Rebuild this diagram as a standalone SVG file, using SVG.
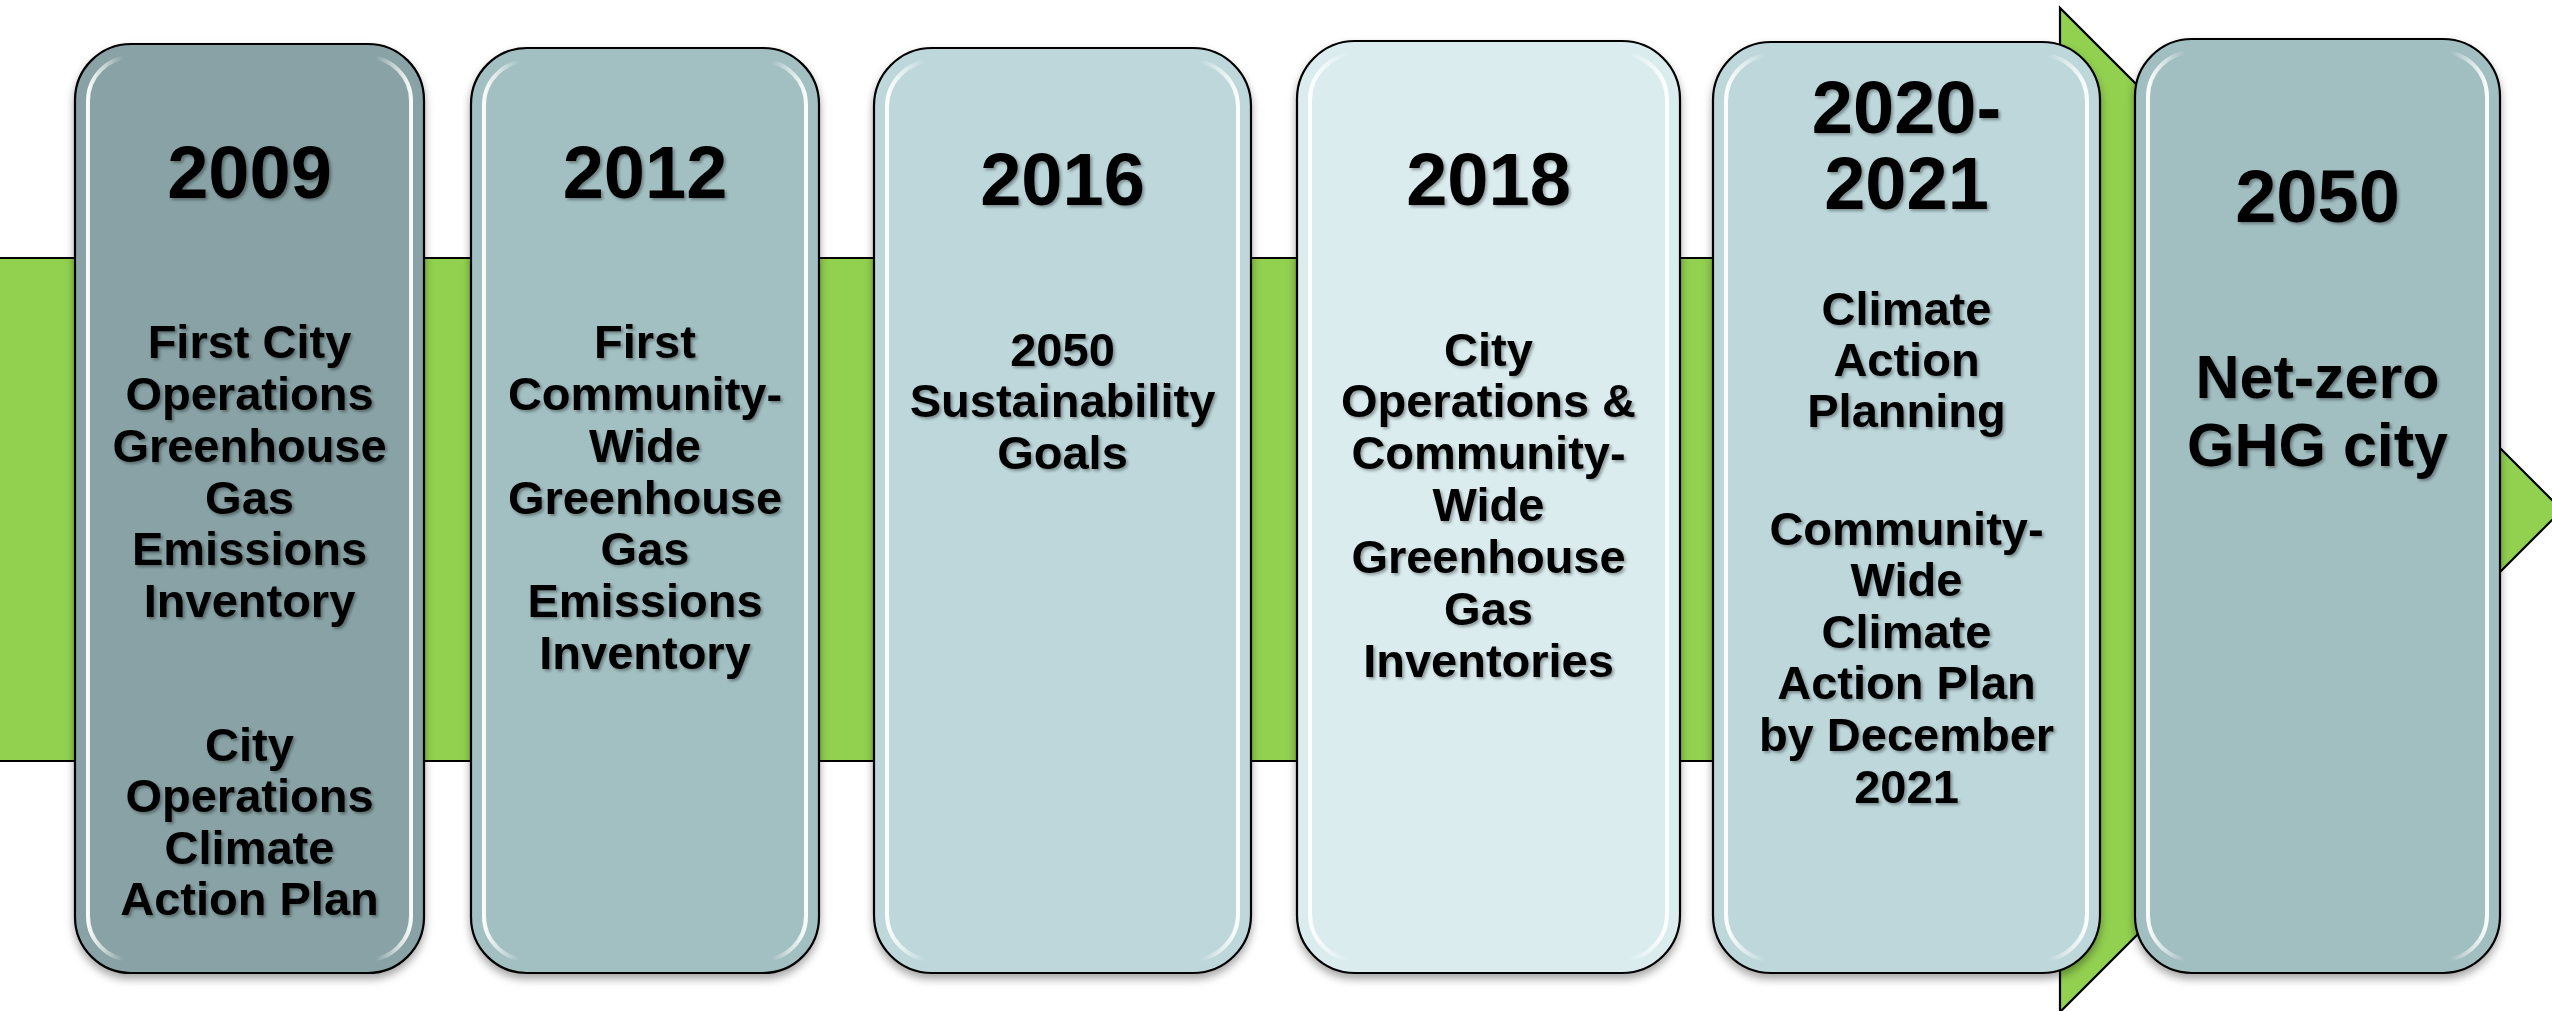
<svg xmlns="http://www.w3.org/2000/svg" width="2552" height="1011" viewBox="0 0 2552 1011">
  <style>
    .box { stroke: #000; stroke-width: 2.2; }
    .hl { fill: none; stroke: url(#hlGrad); stroke-width: 4; }
    .yr { font-family: "Liberation Sans", Arial, sans-serif; font-weight: bold; font-size: 74px; fill: #000; text-anchor: middle; }
    .bd { font-family: "Liberation Sans", Arial, sans-serif; font-weight: bold; font-size: 47px; fill: #000; text-anchor: middle; }
    .big { font-family: "Liberation Sans", Arial, sans-serif; font-weight: bold; font-size: 61px; fill: #000; text-anchor: middle; }
  </style>
  <defs>
    <linearGradient id="hlGrad" x1="0" y1="0" x2="1" y2="0">
      <stop offset="0" stop-color="#fff" stop-opacity="0.95"/>
      <stop offset="0.05" stop-color="#fff" stop-opacity="0.55"/>
      <stop offset="0.11" stop-color="#fff" stop-opacity="0"/>
      <stop offset="0.89" stop-color="#fff" stop-opacity="0"/>
      <stop offset="0.95" stop-color="#fff" stop-opacity="0.55"/>
      <stop offset="1" stop-color="#fff" stop-opacity="0.95"/>
    </linearGradient>
    <filter id="boxShadow" x="-10%" y="-5%" width="120%" height="115%">
      <feDropShadow dx="0" dy="5" stdDeviation="4" flood-color="#000" flood-opacity="0.35"/>
    </filter>
    <filter id="txtShadow" x="-10%" y="-10%" width="120%" height="130%">
      <feDropShadow dx="2" dy="2" stdDeviation="1.5" flood-color="#000" flood-opacity="0.35"/>
    </filter>
  </defs>

  <rect x="0" y="0" width="2552" height="1011" fill="#fff"/>

  <g id="connectors">
    <polygon points="-2,258 2060,258 2060,8 2562,510 2060,1012 2060,761 -2,761" fill="#92D050" stroke="#000" stroke-width="2.2" stroke-linejoin="miter"/>
  </g>

  <g id="node-2009">
    <rect class="box" x="75" y="44" width="349" height="929" rx="56" ry="56" fill="#88A2A5" filter="url(#boxShadow)"/>
    <rect class="hl" x="88" y="57" width="323" height="903" rx="44" ry="44"/>
    <g filter="url(#txtShadow)">
      <text class="yr" x="249.5" y="198">2009</text>
      <text class="bd" x="249.5" y="358">First City</text>
      <text class="bd" x="249.5" y="410">Operations</text>
      <text class="bd" x="249.5" y="462">Greenhouse</text>
      <text class="bd" x="249.5" y="514">Gas</text>
      <text class="bd" x="249.5" y="565">Emissions</text>
      <text class="bd" x="249.5" y="617">Inventory</text>
      <text class="bd" x="249.5" y="761">City</text>
      <text class="bd" x="249.5" y="812">Operations</text>
      <text class="bd" x="249.5" y="864">Climate</text>
      <text class="bd" x="249.5" y="915">Action Plan</text>
    </g>
  </g>

  <g id="node-2012">
    <rect class="box" x="471" y="48" width="348" height="925" rx="56" ry="56" fill="#A2BFC2" filter="url(#boxShadow)"/>
    <rect class="hl" x="484" y="61" width="322" height="899" rx="44" ry="44"/>
    <g filter="url(#txtShadow)">
      <text class="yr" x="645" y="198">2012</text>
      <text class="bd" x="645" y="358">First</text>
      <text class="bd" x="645" y="410">Community-</text>
      <text class="bd" x="645" y="462">Wide</text>
      <text class="bd" x="645" y="514">Greenhouse</text>
      <text class="bd" x="645" y="565">Gas</text>
      <text class="bd" x="645" y="617">Emissions</text>
      <text class="bd" x="645" y="669">Inventory</text>
    </g>
  </g>

  <g id="node-2016">
    <rect class="box" x="874" y="48" width="377" height="925" rx="58" ry="58" fill="#BDD7DB" filter="url(#boxShadow)"/>
    <rect class="hl" x="887" y="61" width="351" height="899" rx="46" ry="46"/>
    <g filter="url(#txtShadow)">
      <text class="yr" x="1062.5" y="205">2016</text>
      <text class="bd" x="1062.5" y="366">2050</text>
      <text class="bd" x="1062.5" y="417">Sustainability</text>
      <text class="bd" x="1062.5" y="469">Goals</text>
    </g>
  </g>

  <g id="node-2018">
    <rect class="box" x="1297" y="41" width="383" height="932" rx="58" ry="58" fill="#DAECEE" filter="url(#boxShadow)"/>
    <rect class="hl" x="1310" y="54" width="357" height="906" rx="46" ry="46"/>
    <g filter="url(#txtShadow)">
      <text class="yr" x="1488.5" y="205">2018</text>
      <text class="bd" x="1488.5" y="366">City</text>
      <text class="bd" x="1488.5" y="417">Operations &amp;</text>
      <text class="bd" x="1488.5" y="469">Community-</text>
      <text class="bd" x="1488.5" y="521">Wide</text>
      <text class="bd" x="1488.5" y="573">Greenhouse</text>
      <text class="bd" x="1488.5" y="625">Gas</text>
      <text class="bd" x="1488.5" y="677">Inventories</text>
    </g>
  </g>

  <g id="node-2020-2021">
    <rect class="box" x="1713" y="42" width="387" height="931" rx="58" ry="58" fill="#BDD7DB" filter="url(#boxShadow)"/>
    <rect class="hl" x="1726" y="55" width="361" height="905" rx="46" ry="46"/>
    <g filter="url(#txtShadow)">
      <text class="yr" x="1906.5" y="133">2020-</text>
      <text class="yr" x="1906.5" y="209">2021</text>
      <text class="bd" x="1906.5" y="325">Climate</text>
      <text class="bd" x="1906.5" y="376">Action</text>
      <text class="bd" x="1906.5" y="427">Planning</text>
      <text class="bd" x="1906.5" y="545">Community-</text>
      <text class="bd" x="1906.5" y="596">Wide</text>
      <text class="bd" x="1906.5" y="648">Climate</text>
      <text class="bd" x="1906.5" y="699">Action Plan</text>
      <text class="bd" x="1906.5" y="751">by December</text>
      <text class="bd" x="1906.5" y="803">2021</text>
    </g>
  </g>

  <g id="node-2050">
    <rect class="box" x="2135" y="39" width="365" height="934" rx="57" ry="57" fill="#A1BEC1" filter="url(#boxShadow)"/>
    <rect class="hl" x="2148" y="52" width="339" height="908" rx="45" ry="45"/>
    <g filter="url(#txtShadow)">
      <text class="yr" x="2317.5" y="222">2050</text>
      <text class="big" x="2317.5" y="398">Net-zero</text>
      <text class="big" x="2317.5" y="466">GHG city</text>
    </g>
  </g>
</svg>
